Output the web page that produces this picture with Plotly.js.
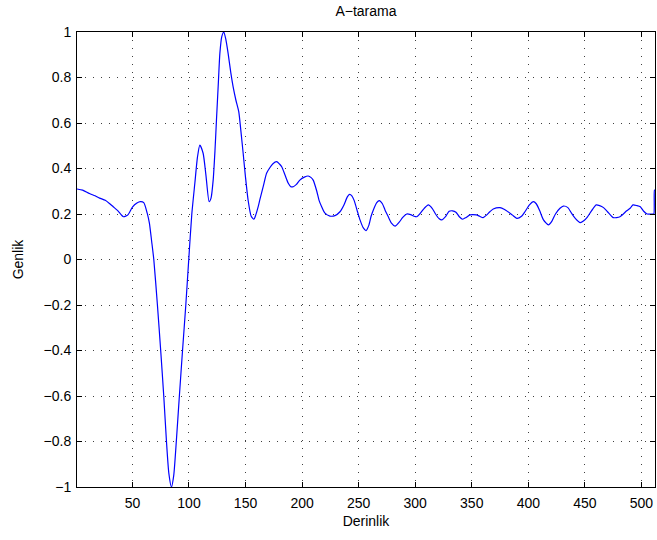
<!DOCTYPE html>
<html>
<head>
<meta charset="utf-8">
<script src="https://cdn.plot.ly/plotly-3.0.1.min.js"></script>
<style>html,body{margin:0;padding:0;background:#fff;}#chart{width:657px;height:540px;}</style>
</head>
<body>
<div id="chart"></div>
<script>
const depth = [1,6,12,17,21,26,30,33,37,42,46,50,54,57,60,63,65,67,68.9,72.1,75,77.7,80.1,82.2,84.5,86.5,88.8,91.5,94.3,97.2,99.8,102.5,105.2,107.5,109.6,112.5,115,117.8,119.5,121.4,123,124.3,126,127.3,129,130.8,132.5,134.6,137,139,141.5,144,146,147.9,150,152.3,155,157.4,159,161.2,163,165.6,168.6,171,174,177.5,180,182,185,187.8,190,192.2,195,198,202,205.4,208,209.8,213,215,217.3,220,224.6,229,233.5,237,240,242,244,246,249,251.2,254,256.5,259,261,263,266,268.3,271,273.3,276,279,282.2,286,289,292.5,296,299,301.4,304,308,311.6,315,318,321,323.5,327,330,333,336,339,342,345,348.5,354,357,360,363,366,369,375,379,382,386,389.8,394,397,401,404.5,407,410,413.4,417.8,421,424,428,431,435,438,441.5,445.9,449,452,456,460,463,466.5,470,475,481,487,490,492.5,496,499,502,505,510,511,511.5,512];
const amplitude = [0.31,0.305,0.29,0.28,0.27,0.26,0.245,0.232,0.215,0.188,0.196,0.23,0.248,0.254,0.25,0.205,0.16,0.08,0.0,-0.2,-0.4,-0.6,-0.8,-0.94,-1.0,-0.95,-0.8,-0.6,-0.4,-0.2,0.0,0.2,0.336,0.45,0.503,0.467,0.37,0.254,0.27,0.35,0.48,0.613,0.78,0.906,0.98,1.0,0.97,0.906,0.82,0.76,0.70,0.65,0.56,0.467,0.36,0.26,0.19,0.177,0.195,0.232,0.27,0.32,0.379,0.40,0.42,0.43,0.42,0.408,0.37,0.335,0.32,0.32,0.33,0.349,0.362,0.367,0.36,0.349,0.30,0.26,0.232,0.205,0.191,0.193,0.21,0.24,0.275,0.286,0.28,0.26,0.21,0.174,0.14,0.127,0.15,0.19,0.218,0.25,0.259,0.245,0.218,0.19,0.16,0.147,0.165,0.185,0.2,0.197,0.19,0.188,0.2,0.225,0.24,0.225,0.2,0.18,0.174,0.19,0.212,0.214,0.208,0.188,0.177,0.185,0.196,0.196,0.19,0.184,0.195,0.21,0.222,0.228,0.22,0.21,0.195,0.181,0.19,0.21,0.24,0.254,0.245,0.215,0.174,0.152,0.17,0.2,0.225,0.235,0.228,0.205,0.181,0.162,0.17,0.185,0.215,0.24,0.237,0.228,0.21,0.184,0.188,0.214,0.225,0.24,0.237,0.232,0.212,0.2,0.2,0.2,0.305,0.305];
const xTicks = [50,100,150,200,250,300,350,400,450,500];
const yTicks = [-1,-0.8,-0.6,-0.4,-0.2,0,0.2,0.4,0.6,0.8,1];

const font = {family: '"Liberation Sans", Arial, sans-serif', size: 14, color: '#000'};
const axisCommon = {
  showline: true, linecolor: '#000', linewidth: 1, mirror: 'ticks',
  ticks: 'inside', ticklen: 5, tickcolor: '#000',
  showgrid: true, gridcolor: 'rgba(0,0,0,0.75)', griddash: '1px,7px', gridwidth: 1,
  zeroline: false, tickfont: font, automargin: false
};
Plotly.newPlot('chart', [{
  x: depth, y: amplitude, type: 'scatter', mode: 'lines',
  line: {color: '#0000ff', width: 1.2, shape: 'spline', smoothing: 0.6}
}], {
  width: 657, height: 540,
  margin: {l: 77, r: 2, t: 32, b: 53},
  paper_bgcolor: '#fff', plot_bgcolor: '#fff',
  font: font,
  showlegend: false,
  title: {text: 'A\u2212tarama', font: font, x: 0.557, xanchor: 'center', y: 0.98, yanchor: 'middle'},
  xaxis: Object.assign({}, axisCommon, {range: [1, 512], tickvals: xTicks, ticklabelstandoff: 3,
    title: {text: 'Derinlik', font: font, standoff: 6}}),
  yaxis: Object.assign({}, axisCommon, {range: [-1, 1], tickvals: yTicks, ticklabelstandoff: 2,
    title: {text: 'Genlik', font: font, standoff: 16}})
}, {staticPlot: true});
</script>
</body>
</html>
